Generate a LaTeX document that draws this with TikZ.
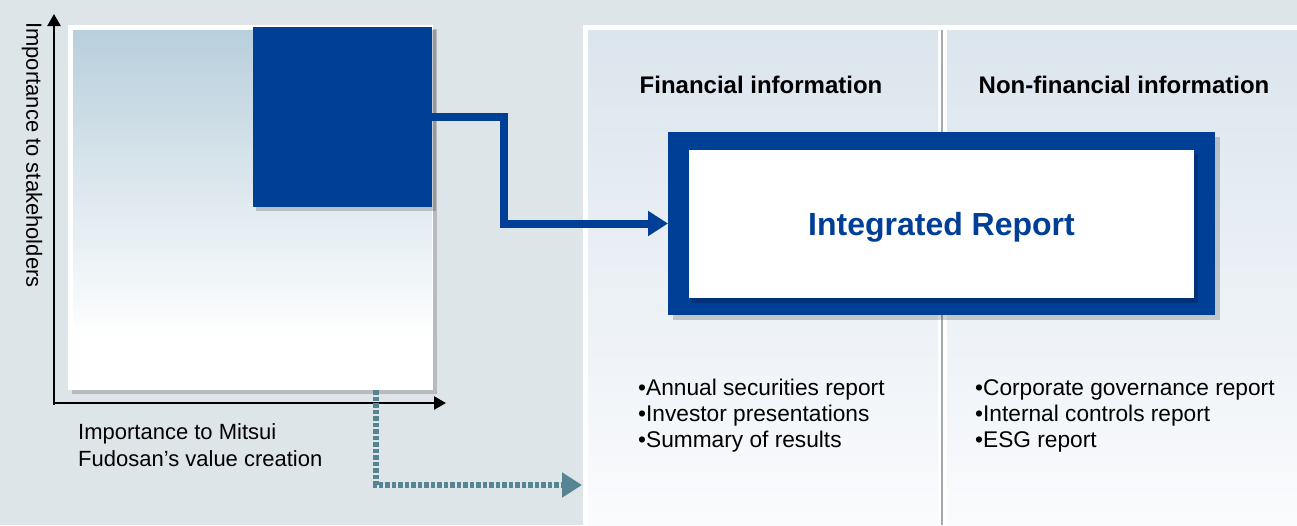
\documentclass[tikz,border=0pt]{standalone}
\usepackage{fontspec}
\setmainfont{Liberation Sans}
\usetikzlibrary{arrows.meta}
\definecolor{bg}{HTML}{DEE5E9}
\definecolor{irblue}{HTML}{003F96}
\definecolor{irdark}{HTML}{002A68}
\definecolor{dotc}{HTML}{568493}
\definecolor{chtop}{HTML}{B8CFDC}
\definecolor{pantop}{HTML}{DBE5ED}
\definecolor{panbot}{HTML}{FAFBFD}
\definecolor{divg}{HTML}{A3A9AE}
\pgfdeclareverticalshading{chartsh}{100bp}{color(0bp)=(white); color(25bp)=(white); color(32bp)=(white); color(75bp)=(chtop); color(100bp)=(chtop)}
\tikzset{
  box/.style={inner sep=0pt, outer sep=0pt, anchor=north west},
  shadowbox/.style={fill=black, opacity=0.18},
  headtxt/.style={font=\fontsize{24}{28}\selectfont\bfseries, anchor=base},
  itemtxt/.style={font=\fontsize{22.7}{26}\selectfont, anchor=base west, inner sep=0pt},
  axtxt/.style={font=\fontsize{22}{27}\selectfont, inner sep=0pt},
  axis/.style={line width=2.5pt, -{Triangle[length=12pt,width=13pt]}},
  bluearrow/.style={irblue, line width=8pt, line join=miter, -{Triangle[length=20pt,width=24pt]}},
  dotarrow/.style={dotc, line width=6.5pt, dash pattern=on 4.5pt off 2pt, -{Triangle[length=20pt,width=24pt]}}
}
\begin{document}
\begin{tikzpicture}[x=1pt,y=-1pt]
\useasboundingbox (0,0) rectangle (1297,525);
\fill[bg] (0,0) rectangle (1297,525);

% information panels
\fill[white] (583,25) rectangle (1297,525);
\shade[top color=pantop, bottom color=panbot] (588,30) rectangle (938,525);
\shade[top color=pantop, bottom color=panbot] (947,30) rectangle (1297,525);
\draw[divg, line width=2.5pt] (942,30) -- (942,525);

\node[headtxt] (fin) at (761,93) {Financial information};
\node[headtxt] (nonfin) at (1124,93) {Non-financial information};

% chart
\fill[shadowbox] (72,29) rectangle (437,394);
\node[box, fill=white, minimum width=365pt, minimum height=365pt] (chart) at (68,25) {};
\shade[shading=chartsh] (73,30) rectangle (432,389);
\fill[shadowbox] (256,30) rectangle (436,211);
\node[box, fill=irblue, minimum width=179pt, minimum height=180pt] (sq) at (253,27) {};

% axes
\coordinate (o) at (54,403);
\coordinate (ytop) at (54,14);
\coordinate (xend) at (446,403);
\draw[axis] (54,405) -- (ytop);
\draw[axis] (o) -- (xend);
\node[axtxt, rotate=-90] (ylab) at (32,155) {Importance to stakeholders};
\node[axtxt, anchor=base west] (xlab1) at (78,439) {Importance to Mitsui};
\node[axtxt, anchor=base west] (xlab2) at (78,466) {Fudosan’s value creation};

% integrated report
\fill[shadowbox] (673,137) rectangle (1220,320);
\node[box, fill=irblue, minimum width=547pt, minimum height=183pt] (ir) at (668,132) {};
\fill[irdark, opacity=0.6] (692,154) rectangle (1198,303);
\node[box, fill=white, minimum width=505pt, minimum height=148pt] (irin) at (689,150) {};
\node[anchor=base, text=irblue, font=\fontsize{32}{36}\selectfont\bfseries] (irtxt) at (941.5,235) {Integrated Report};

% connectors
\draw[bluearrow] (sq.east) -- ++(72,0) |- (ir.west);
\coordinate (d0) at (376,390);
\coordinate (d1) at (582,485);
\draw[dotarrow] (d0) |- (d1);

% lists
\node[itemtxt] (f1) at (638,395) {•Annual securities report};
\node[itemtxt] (f2) at (638,421) {•Investor presentations};
\node[itemtxt] (f3) at (638,447) {•Summary of results};
\node[itemtxt] (n1) at (975,395) {•Corporate governance report};
\node[itemtxt] (n2) at (975,421) {•Internal controls report};
\node[itemtxt] (n3) at (975,447) {•ESG report};
\end{tikzpicture}
\end{document}
